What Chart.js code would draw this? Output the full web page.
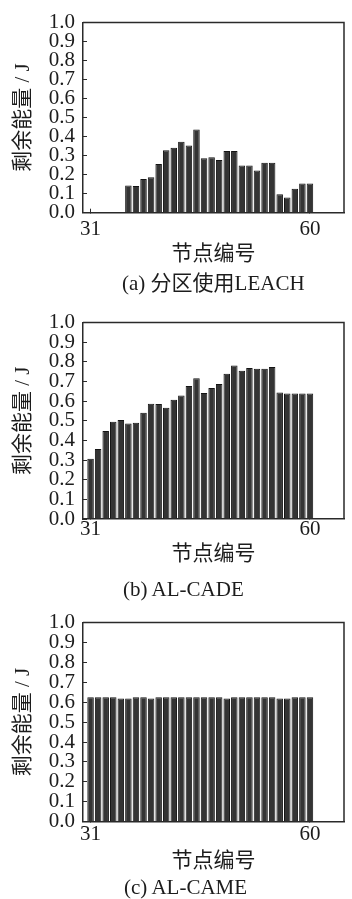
<!DOCTYPE html>
<html>
<head>
<meta charset="utf-8">
<script src="https://cdn.jsdelivr.net/npm/chart.js@4.4.0/dist/chart.umd.min.js"></script>
<style>
  html, body { margin: 0; padding: 0; background: #ffffff; }
  body { width: 352px; height: 899px; position: relative; overflow: hidden; }
  canvas { position: absolute; left: 0; }
  .caption {
    position: absolute;
    white-space: nowrap;
    font-family: "Liberation Serif", "Noto Sans CJK SC", serif;
    font-size: 21px;
    line-height: 24px;
    height: 24px;
    color: #1c1c1c;
  }
</style>
</head>
<body>
<canvas id="panelA" width="352" height="300" style="top:0px"></canvas>
<canvas id="panelB" width="352" height="305" style="top:300px"></canvas>
<canvas id="panelC" width="352" height="299" style="top:600px"></canvas>
<div class="caption" id="capA" style="left:122px; top:271px"></div>
<div class="caption" id="capB" style="left:123px; top:577px"></div>
<div class="caption" id="capC" style="left:124px; top:875px"></div>
<script>
// Node numbers along the x axis
const nodes = [31, 32, 33, 34, 35, 36, 37, 38, 39, 40,
               41, 42, 43, 44, 45, 46, 47, 48, 49, 50,
               51, 52, 53, 54, 55, 56, 57, 58, 59, 60];

// Residual energy (J) per node, one list per scheme
const leachEnergy = [0, 0, 0, 0, 0, 0.143, 0.140, 0.177, 0.186, 0.256,
                     0.328, 0.341, 0.373, 0.353, 0.438, 0.286, 0.291, 0.277, 0.325, 0.325,
                     0.248, 0.248, 0.222, 0.263, 0.263, 0.097, 0.080, 0.126, 0.154, 0.154];
const cadeEnergy  = [0.307, 0.356, 0.448, 0.495, 0.504, 0.486, 0.490, 0.541, 0.587, 0.585,
                     0.566, 0.607, 0.628, 0.677, 0.716, 0.641, 0.667, 0.687, 0.739, 0.781,
                     0.755, 0.768, 0.765, 0.765, 0.773, 0.644, 0.639, 0.639, 0.639, 0.639];
const cameEnergy  = [0.625, 0.625, 0.625, 0.625, 0.618, 0.618, 0.625, 0.625, 0.618, 0.625,
                     0.625, 0.625, 0.625, 0.625, 0.625, 0.625, 0.625, 0.625, 0.618, 0.625,
                     0.625, 0.625, 0.625, 0.625, 0.625, 0.618, 0.618, 0.625, 0.625, 0.625];

// Axis ticks and labels
const xTickValues = [31, 60];
const xTickLabels = ['31', '60'];
const yTickValues = [0, 0.1, 0.2, 0.3, 0.4, 0.5, 0.6, 0.7, 0.8, 0.9, 1.0];
const yTickLabels = ['0.0', '0.1', '0.2', '0.3', '0.4', '0.5', '0.6', '0.7', '0.8', '0.9', '1.0'];

// Texts
const yTitle = '剩余能量 / J';
const xTitle = '节点编号';
const panelTitles = ['(a) 分区使用LEACH', '(b) AL-CADE', '(c) AL-CAME'];

const SERIF = '"Liberation Serif", "Noto Sans CJK SC", serif';
const MIXED = '"Liberation Serif", "Noto Sans CJK SC", sans-serif';
const INK = '#1c1c1c';
const TICK_SIZE = 21;
const TEXT_SIZE = 21;

// Closes the plot box with a top and right edge
const frame = {
  id: 'frame',
  beforeDatasetsDraw(chart) {
    const { ctx, chartArea: a } = chart;
    ctx.save();
    ctx.strokeStyle = '#2a2a2a';
    ctx.lineWidth = 1.5;
    ctx.beginPath();
    ctx.moveTo(a.left, a.top);
    ctx.lineTo(a.right, a.top);
    ctx.lineTo(a.right, a.bottom);
    ctx.stroke();
    ctx.restore();
  }
};

function makePanel(id, captionId, values, title, g) {
  // g: layout geometry inside this canvas (pixels)
  document.getElementById(captionId).textContent = title;
  const H = g.height;
  const half = TEXT_SIZE * 1.2 / 2;
  const axisBottom = g.subY - half;
  const TL = 4; // inward tick length
  new Chart(document.getElementById(id), {
    type: 'bar',
    data: {
      datasets: [{
        data: nodes.map((n, i) => ({ x: n, y: values[i] })),
        backgroundColor: '#343434',
        borderColor: '#141414',
        borderWidth: 1,
        categoryPercentage: 1.0,
        barPercentage: 0.86
      }]
    },
    options: {
      responsive: false,
      animation: false,
      devicePixelRatio: 1,
      layout: { padding: { top: g.plotTop, left: 0, right: 8, bottom: H - axisBottom } },
      plugins: {
        legend: { display: false },
        tooltip: { enabled: false },
        title: { display: false }
      },
      scales: {
        x: {
          type: 'linear',
          min: 30,
          max: 64.5,
          offset: false,
          afterFit(s) { s.height = axisBottom - g.plotBottom; },
          afterBuildTicks(s) { s.ticks = xTickValues.map(v => ({ value: v })); },
          border: { display: true, color: '#2a2a2a', width: 1.5 },
          grid: { display: true, drawOnChartArea: false, drawTicks: true, tickLength: -TL, color: '#2a2a2a', lineWidth: 1, offset: false },
          ticks: {
            autoSkip: false,
            maxRotation: 0,
            color: INK,
            padding: g.tickY - g.plotBottom + TL - TICK_SIZE / 2,
            font: { family: SERIF, size: TICK_SIZE, lineHeight: 1 },
            callback: (v, i) => xTickLabels[i]
          },
          title: {
            display: true,
            text: xTitle,
            color: INK,
            padding: { top: 0, bottom: axisBottom - g.xTitleY - half },
            font: { family: MIXED, size: TEXT_SIZE, lineHeight: 1.2 }
          }
        },
        y: {
          min: 0,
          max: 1,
          afterFit(s) { s.width = 83; },
          afterBuildTicks(s) { s.ticks = yTickValues.map(v => ({ value: v })); },
          border: { display: true, color: '#2a2a2a', width: 1.5 },
          grid: { display: true, drawOnChartArea: false, drawTicks: true, tickLength: -TL, color: '#2a2a2a', lineWidth: 1 },
          ticks: {
            autoSkip: false,
            color: INK,
            padding: 12,
            font: { family: SERIF, size: TICK_SIZE, lineHeight: 1 },
            callback: (v, i) => yTickLabels[i]
          },
          title: {
            display: true,
            text: yTitle,
            color: INK,
            padding: { top: 23 - half, bottom: 0 },
            font: { family: MIXED, size: TEXT_SIZE, lineHeight: 1.2 }
          }
        }
      }
    },
    plugins: [frame]
  });
}

makePanel('panelA', 'capA', leachEnergy, panelTitles[0],
  { height: 300, plotTop: 9.5, plotBottom: 212.7, tickY: 229, xTitleY: 254, subY: 283 });
makePanel('panelB', 'capB', cadeEnergy, panelTitles[1],
  { height: 305, plotTop: 15, plotBottom: 219, tickY: 229.5, xTitleY: 254.7, subY: 289 });
makePanel('panelC', 'capC', cameEnergy, panelTitles[2],
  { height: 299, plotTop: 16.7, plotBottom: 221.7, tickY: 234.5, xTitleY: 261, subY: 286.7 });
</script>
</body>
</html>
